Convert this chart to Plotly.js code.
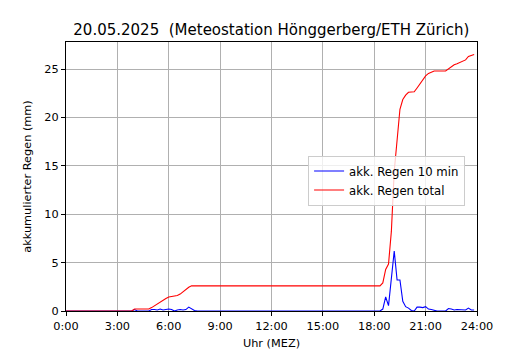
<!DOCTYPE html>
<html>
<head>
<meta charset="utf-8">
<script src="https://cdn.plot.ly/plotly-3.0.1.min.js"></script>
<style>html,body{margin:0;padding:0;background:#fff;}#chart{width:530px;height:350px;}</style>
</head>
<body>
<div id="chart"></div>
<script>
// Blue series: 10-minute accumulated rain (mm)
const blueTimes = ["0:00","3:50","4:00","4:10","4:50","5:00","5:10","5:20","5:30","5:40","5:50","6:00","6:10","6:20","6:30","6:40","6:50","7:00","7:10","7:20","7:30","7:40",
  "18:20","18:30","18:40","18:50","19:00","19:10","19:20","19:30","19:40","19:50","20:00","20:10","20:20","20:30","20:40","20:50","21:00","21:10","21:20","21:30","21:40",
  "22:10","22:20","22:30","22:40","22:50","23:00","23:10","23:20","23:30","23:40","23:50"];
const blueValues = [0,0,0.15,0,0,0.15,0.15,0.1,0.2,0.1,0.15,0.2,0.15,0,0.1,0.15,0.1,0.15,0.4,0.2,0.05,0,
  0,0.2,1.45,0.55,3.4,6.2,3.2,3.2,1.0,0.45,0.3,0.05,0,0.4,0.4,0.35,0.45,0.2,0.15,0.05,0,
  0,0.25,0.2,0.1,0.15,0.15,0.15,0.1,0.3,0.1,0.1];

// Red series: total accumulated rain (mm)
const redTimes = ["0:00","3:50","4:00","4:50","5:00","5:10","5:20","5:30","5:40","5:50","6:00","6:10","6:20","6:30","6:40","6:50","7:00","7:10","7:20","7:30",
  "18:20","18:30","18:40","18:50","19:00","19:10","19:20","19:30","19:40","19:50","20:00","20:10","20:20","20:30","20:40","20:50","21:00","21:10","21:20","21:30",
  "22:10","22:20","22:30","22:40","22:50","23:00","23:10","23:20","23:30","23:40","23:50"];
const redValues = [0,0,0.2,0.2,0.35,0.55,0.75,0.95,1.1,1.3,1.45,1.5,1.5,1.6,1.75,2.0,2.2,2.45,2.6,2.6,
  2.6,2.9,4.3,4.85,8.25,14.45,17.65,20.85,21.85,22.3,22.6,22.65,22.65,23.05,23.45,23.8,24.3,24.55,24.7,24.8,
  24.8,25.05,25.3,25.45,25.55,25.7,25.85,25.95,26.3,26.4,26.5];

const tickHours = [0,3,6,9,12,15,18,21,24];
const tickLabels = ["0:00","3:00","6:00","9:00","12:00","15:00","18:00","21:00","24:00"];
const yTicks = [0,5,10,15,20,25];

const toHours = s => { const p = s.split(":"); return (+p[0]) + (+p[1]) / 60; };

const FONT = "DejaVu Sans, sans-serif";

const traces = [
  {x: blueTimes.map(toHours), y: blueValues, type: "scatter", mode: "lines",
   name: "akk. Regen 10 min", line: {color: "#0000ff", width: 1.1}},
  {x: redTimes.map(toHours), y: redValues, type: "scatter", mode: "lines",
   name: "akk. Regen total", line: {color: "#ff0000", width: 1.1}}
];

const axisCommon = {
  showgrid: true, gridcolor: "#b0b0b0", gridwidth: 1,
  showline: true, linecolor: "#000", linewidth: 1, mirror: true,
  ticks: "outside", ticklen: 4, tickcolor: "#000",
  zeroline: false, tickfont: {family: FONT, size: 11.3, color: "#000"}
};

const layout = {
  width: 530, height: 350,
  margin: {l: 66, r: 53, t: 42, b: 39},
  paper_bgcolor: "#fff", plot_bgcolor: "#fff",
  font: {family: FONT, color: "#000"},
  title: {text: "20.05.2025  (Meteostation Hönggerberg/ETH Zürich)",
          font: {family: FONT, size: 15, color: "#000"},
          x: 0.5121, xanchor: "center", y: 0.915, yanchor: "middle"},
  xaxis: Object.assign({}, axisCommon, {
    range: [0, 24], tickvals: tickHours, ticktext: tickLabels,
    title: {text: "Uhr (MEZ)", font: {family: FONT, size: 11.3}, standoff: 10}
  }),
  yaxis: Object.assign({}, axisCommon, {
    range: [0, 27.8], tickvals: yTicks,
    title: {text: "akkumulierter Regen (mm)", font: {family: FONT, size: 11.3}, standoff: 10}
  }),
  showlegend: true,
  legend: {x: 0.589, y: 0.578, xanchor: "left", yanchor: "top",
           bgcolor: "rgba(255,255,255,0.8)", bordercolor: "#cccccc", borderwidth: 1,
           font: {family: FONT, size: 11.7, color: "#000"}, tracegroupgap: 0}
};

Plotly.newPlot("chart", traces, layout, {staticPlot: true, displayModeBar: false});
</script>
</body>
</html>
